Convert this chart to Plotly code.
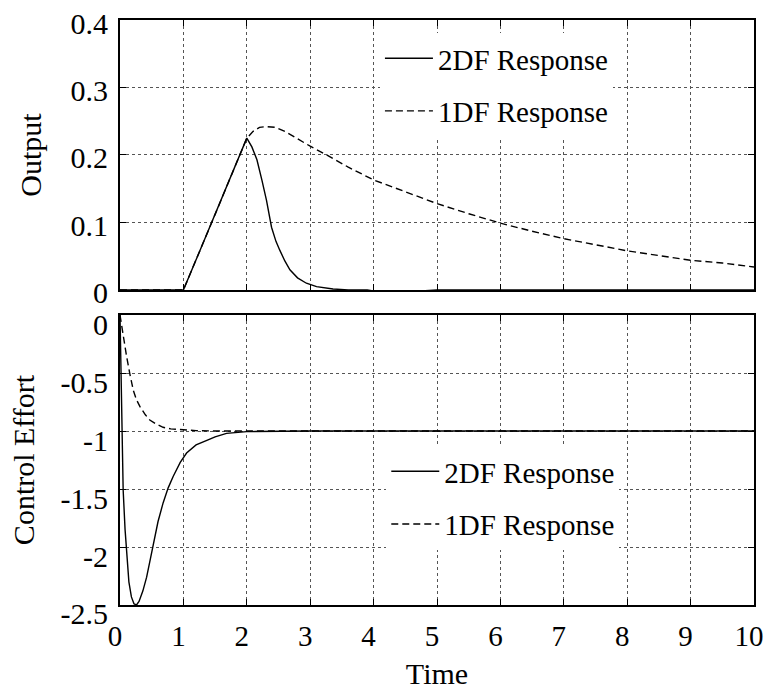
import plotly.graph_objects as go
from plotly.subplots import make_subplots

# ---------------- data ----------------
out_2df_t = [0, 1, 1.25, 1.5, 1.75, 2.0, 2.08, 2.16, 2.24, 2.31, 2.39, 2.46, 2.52, 2.6, 2.68,
             2.8, 2.94, 3.1, 3.36, 3.6, 3.9, 4.1, 4.3, 4.5, 4.7, 5, 10]
out_2df_y = [0, 0, 0.056, 0.112, 0.168, 0.225, 0.212, 0.193, 0.162, 0.133, 0.093, 0.072, 0.059,
             0.043, 0.030, 0.018, 0.010, 0.005, 0.0015, 0.0, 0.0, -0.003, -0.004, -0.003, -0.001, 0, 0]

out_1df_t = [0, 1, 1.5, 2.0, 2.1, 2.2, 2.3, 2.45, 2.6, 2.8, 3.0, 3.3, 3.6, 4.0, 4.5, 5, 5.5,
             6, 6.5, 7, 7.5, 8, 8.5, 9, 9.5, 10]
out_1df_y = [0, 0, 0.112, 0.225, 0.235, 0.241, 0.242, 0.241, 0.235, 0.224, 0.213, 0.198, 0.182,
             0.163, 0.145, 0.128, 0.113, 0.099, 0.087, 0.076, 0.067, 0.058, 0.051, 0.044, 0.040, 0.034]

ctl_2df_t = [0, 0.02, 0.05, 0.08, 0.105, 0.14, 0.18, 0.22, 0.26, 0.30, 0.36, 0.42, 0.48, 0.53,
             0.6, 0.68, 0.76, 0.84, 0.95, 1.05, 1.2, 1.37, 1.5, 1.68, 2, 3, 10]
ctl_2df_y = [0, -0.6, -1.51, -1.85, -2.08, -2.3, -2.43, -2.49, -2.5, -2.47, -2.38, -2.26, -2.1,
             -1.97, -1.78, -1.62, -1.49, -1.39, -1.27, -1.19, -1.12, -1.08, -1.05, -1.02, -1.005, -1, -1]

ctl_1df_t = [0, 0.05, 0.105, 0.16, 0.21, 0.26, 0.315, 0.4, 0.47, 0.57, 0.68, 0.8, 0.95, 1.2, 1.5, 10]
ctl_1df_y = [0, -0.18, -0.36, -0.52, -0.65, -0.73, -0.79, -0.86, -0.905, -0.94, -0.968, -0.982,
             -0.99, -0.997, -1, -1]

x_ticks = [0, 1, 2, 3, 4, 5, 6, 7, 8, 9, 10]
top_ticks = [0, 0.1, 0.2, 0.3, 0.4]
top_ticktext = ["0", "0.1", "0.2", "0.3", "0.4"]
bot_ticks = [0, -0.5, -1, -1.5, -2, -2.5]
bot_ticktext = ["0", "-0.5", "-1", "-1.5", "-2", "-2.5"]

names = ["2DF Response", "1DF Response"]

# ---------------- figure ----------------
FONT = "Liberation Serif"
fig = make_subplots(rows=2, cols=1, shared_xaxes=True)

solid = dict(color="black", width=1.4)
dashed = dict(color="black", width=1.4, dash="7px,4px")

fig.add_trace(go.Scatter(x=out_2df_t, y=out_2df_y, mode="lines", line=solid, name=names[0],
                         legend="legend", legendgroup="a"), row=1, col=1)
fig.add_trace(go.Scatter(x=out_1df_t, y=out_1df_y, mode="lines", line=dashed, name=names[1],
                         legend="legend", legendgroup="b"), row=1, col=1)
fig.add_trace(go.Scatter(x=ctl_2df_t, y=ctl_2df_y, mode="lines", line=solid, name=names[0],
                         legend="legend2", legendgroup="c"), row=2, col=1)
fig.add_trace(go.Scatter(x=ctl_1df_t, y=ctl_1df_y, mode="lines", line=dashed, name=names[1],
                         legend="legend2", legendgroup="d"), row=2, col=1)

axis_common = dict(showline=True, linecolor="black", linewidth=2, mirror="allticks",
                   ticks="inside", ticklen=6, tickcolor="black", tickwidth=1,
                   showgrid=True, gridcolor="#555555", griddash="dot", gridwidth=1,
                   zeroline=False, ticklabeloverflow="allow", automargin=False,
                   tickfont=dict(family=FONT, size=30, color="black"))

fig.update_xaxes(**axis_common, range=[0, 10], tickvals=x_ticks)
fig.update_xaxes(showticklabels=False, row=1, col=1)
fig.update_xaxes(title=dict(text="Time", font=dict(family=FONT, size=30, color="black"), standoff=20),
                 ticklabelstandoff=4, ticklabelshift=-5,
                 tickfont=dict(family=FONT, size=29, color="black"), row=2, col=1)

fig.update_yaxes(**axis_common)
fig.update_yaxes(range=[0, 0.4], tickvals=top_ticks, ticktext=top_ticktext, domain=[0.5385, 1.0],
                 ticklabelshift=3, ticklabelstandoff=4,
                 title=dict(text="Output", font=dict(family=FONT, size=30, color="black"), standoff=20),
                 row=1, col=1)
fig.update_yaxes(range=[-2.5, 0], tickvals=bot_ticks, ticktext=bot_ticktext, domain=[0.0, 0.4957],
                 ticklabelshift=9, ticklabelstandoff=4,
                 title=dict(text="Control Effort", font=dict(family=FONT, size=30, color="black"), standoff=17),
                 row=2, col=1)

legend_common = dict(bgcolor="white", borderwidth=0, font=dict(family=FONT, size=29, color="black"),
                     tracegroupgap=12, traceorder="grouped", itemwidth=48,
                     xanchor="left", yanchor="top")

fig.update_layout(
    width=765, height=690,
    margin=dict(l=120, r=11, t=20, b=85, autoexpand=False),
    paper_bgcolor="white", plot_bgcolor="white",
    showlegend=True,
    legend=dict(**legend_common, x=0.41, y=0.978),
    legend2=dict(**legend_common, x=0.42, y=0.272),
    font=dict(family=FONT, color="black"),
)

fig.write_html("out.html")
